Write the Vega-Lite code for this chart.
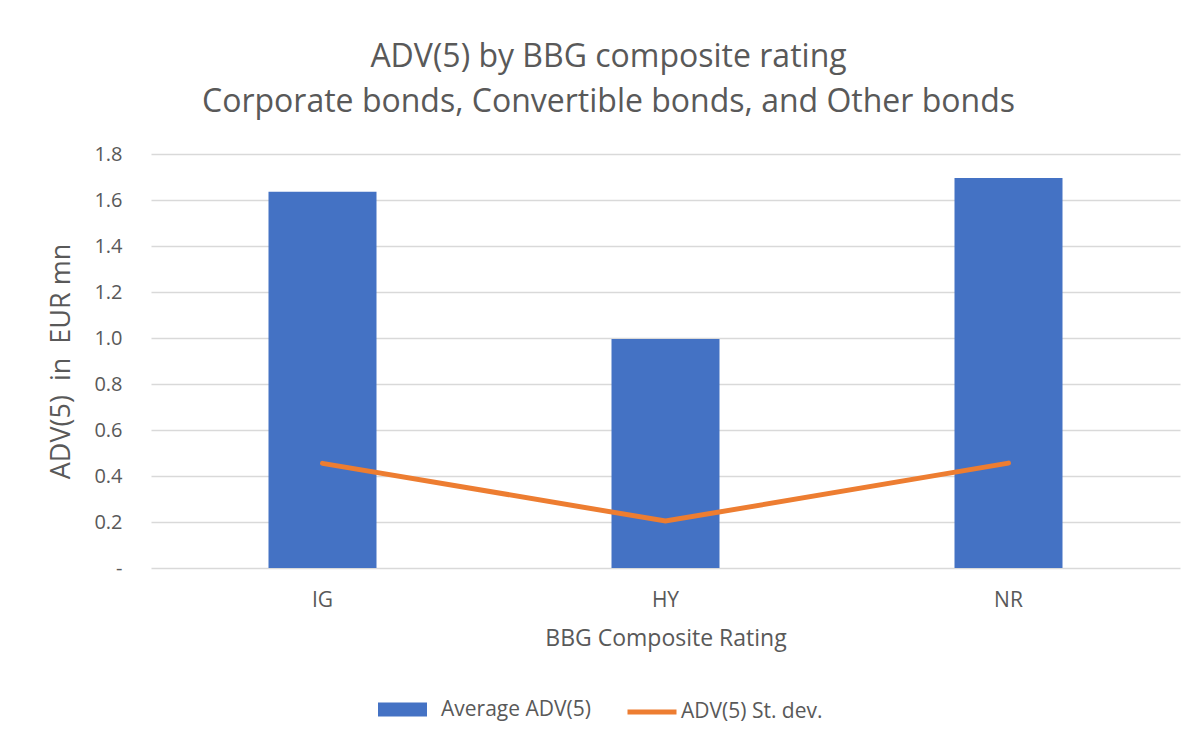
{
  "$schema": "https://vega.github.io/schema/vega-lite/v6.json",
  "autosize": {"type": "none"},
  "width": 1029,
  "height": 414,
  "padding": {"left": 151, "top": 154, "right": 22, "bottom": 174},
  "background": "white",
  "config": {
    "font": "Open Sans",
    "view": {"stroke": null},
    "axis": {"labelColor": "#595959", "titleColor": "#595959", "labelFont": "Open Sans", "titleFont": "Open Sans", "titleFontWeight": "normal"},
    "legend": {"labelColor": "#595959", "labelFont": "Open Sans"}
  },
  "title": {
    "text": ["ADV(5) by BBG composite rating", "Corporate bonds, Convertible bonds, and Other bonds"],
    "fontSize": 32,
    "fontWeight": "normal",
    "color": "#595959",
    "font": "Open Sans",
    "anchor": "middle",
    "dx": -57,
    "lineHeight": 45,
    "offset": 25
  },
  "data": {
    "values": [
      {"rating": "IG", "avg": 1.636, "sd": 0.455},
      {"rating": "HY", "avg": 0.996, "sd": 0.204},
      {"rating": "NR", "avg": 1.696, "sd": 0.456}
    ]
  },
  "encoding": {
    "x": {
      "field": "rating",
      "type": "nominal",
      "sort": ["IG", "HY", "NR"],
      "scale": {"paddingInner": 0, "paddingOuter": 0},
      "axis": {
        "title": "BBG Composite Rating",
        "titleFontSize": 23,
        "titlePadding": 17,
        "labelFontSize": 21,
        "labelAngle": 0,
        "labelPadding": 21,
        "ticks": false,
        "domain": false,
        "grid": false
      }
    }
  },
  "layer": [
    {
      "mark": {"type": "bar", "size": 108, "color": "#4472C4"},
      "encoding": {
        "y": {
          "field": "avg",
          "type": "quantitative",
          "scale": {"domain": [0, 1.8]},
          "axis": {
            "title": "ADV(5)\u00a0\u00a0in\u00a0\u00a0EUR mn",
            "titleFontSize": 27,
            "titlePadding": 18,
            "labelFontSize": 20,
            "labelPadding": 29,
            "values": [0, 0.2, 0.4, 0.6, 0.8, 1.0, 1.2, 1.4, 1.6, 1.8],
            "labelExpr": "datum.value == 0 ? '-' : format(datum.value, '.1f')",
            "ticks": false,
            "domain": false,
            "grid": true,
            "gridColor": "#d9d9d9",
            "gridWidth": 1.5
          }
        },
        "fill": {
          "datum": "Average ADV(5)",
          "scale": {"range": ["#4472C4"]},
          "legend": {
            "title": null,
            "orient": "none",
            "legendX": 227,
            "legendY": 531,
            "labelFontSize": 21,
            "labelOffset": 14,
            "symbolType": "M-1,-0.29H1V0.29H-1Z",
            "symbolSize": 2401,
            "symbolStrokeWidth": 0
          }
        }
      }
    },
    {
      "mark": {"type": "line", "color": "#ED7D31", "strokeWidth": 5, "strokeCap": "round"},
      "encoding": {
        "y": {"field": "sd", "type": "quantitative"},
        "stroke": {
          "datum": "ADV(5) St. dev.",
          "scale": {"range": ["#ED7D31"]},
          "legend": {
            "title": null,
            "orient": "none",
            "legendX": 474,
            "legendY": 531,
            "labelFontSize": 21,
            "labelOffset": 2,
            "symbolType": "stroke",
            "symbolSize": 2401,
            "symbolStrokeWidth": 5
          }
        }
      }
    }
  ]
}
